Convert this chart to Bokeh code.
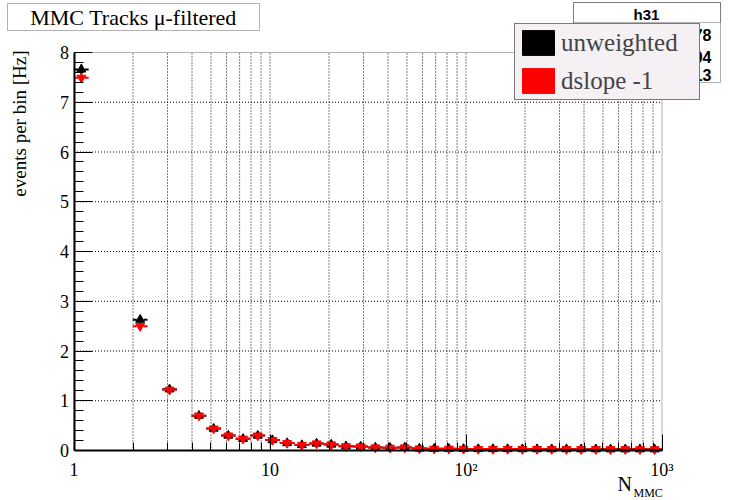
import numpy as np
from bokeh.plotting import figure
from bokeh.models import (FixedTicker, SingleIntervalTicker, Label, BoxAnnotation,
                          Legend, LegendItem, ColumnDataSource)
from bokeh.embed import file_html
from bokeh.resources import INLINE

# ---------------- data ----------------
title_text = "MMC Tracks μ-filtered"
stats_name = "h31"
stats_fragments = ["78", "04", "13"]
series_names = ["unweighted", "dslope -1"]
y_label = "events per bin [Hz]"
x_label_main = "N"
x_label_sub = "MMC"

n_bins = 40                      # log-spaced bins from 1 to 1000
bin_index = [0, 4, 6] + list(range(8, 40))   # non-empty bins

unweighted = [7.66, 2.63, 1.23, 0.70, 0.44, 0.30, 0.235, 0.30, 0.21, 0.15,
              0.11, 0.14, 0.12, 0.085, 0.08, 0.06, 0.055, 0.06, 0.04, 0.035,
              0.035, 0.032, 0.03, 0.03, 0.03, 0.028, 0.028, 0.027, 0.027, 0.026,
              0.026, 0.025, 0.025, 0.025, 0.024]
dslope = [7.49, 2.50, 1.22, 0.70, 0.44, 0.30, 0.235, 0.30, 0.21, 0.15,
          0.11, 0.14, 0.12, 0.085, 0.08, 0.06, 0.055, 0.06, 0.04, 0.035,
          0.035, 0.032, 0.03, 0.03, 0.03, 0.028, 0.028, 0.027, 0.027, 0.026,
          0.026, 0.025, 0.025, 0.025, 0.024]
err_unweighted = [0.10, 0.06, 0.04, 0.03, 0.025, 0.02, 0.018, 0.02, 0.016, 0.013,
                  0.011, 0.012, 0.011, 0.009, 0.009, 0.008, 0.007, 0.008, 0.006, 0.006,
                  0.006, 0.005, 0.005, 0.005, 0.005, 0.005, 0.005, 0.005, 0.005, 0.005,
                  0.005, 0.005, 0.005, 0.005, 0.005]
err_dslope = [0.10, 0.06, 0.04, 0.03, 0.025, 0.02, 0.018, 0.02, 0.016, 0.013,
              0.011, 0.012, 0.011, 0.009, 0.009, 0.008, 0.007, 0.008, 0.006, 0.006,
              0.006, 0.005, 0.005, 0.005, 0.005, 0.005, 0.005, 0.005, 0.005, 0.005,
              0.005, 0.005, 0.005, 0.005, 0.005]

x_limits = (1, 1000)
y_limits = (0, 8)
x_major_ticks = [1, 10, 100, 1000]
x_tick_labels = {1: "1", 10: "10", 100: "10²", 1000: "10³"}
x_minor_ticks = [m * 10 ** d for d in range(3) for m in range(2, 10)]
y_grid_values = [1, 2, 3, 4, 5, 6, 7]

# ---------------- derived ----------------
edges = np.logspace(0, 3, n_bins + 1)
idx = np.array(bin_index)
lo = edges[idx]
hi = edges[idx + 1]
xc = np.sqrt(lo * hi)

SERIF = "Liberation Serif"
SANS = "Liberation Sans"

W, H = 735, 500
# frame (ROOT pad) pixel geometry: x=1 at 73.5px, x=1000 at 661.5px; y=0 at 450px, y=8 at 52px
fx0, fx1, fy0, fy8 = 73.5, 661.5, 450.0, 52.0
dec = (fx1 - fx0) / 3.0
unit = (fy0 - fy8) / 8.0
xr = (10 ** (-fx0 / dec), 10 ** (3 + (W - fx1) / dec))
yr = (-(H - fy0) / unit, 8 + fy8 / unit)

p = figure(width=W, height=H, x_axis_type="log", x_range=xr, y_range=yr,
           output_backend="svg", toolbar_location=None, title=None,
           min_border=0, min_border_left=0, min_border_right=0,
           min_border_top=0, min_border_bottom=0)
p.outline_line_color = None
p.background_fill_color = "white"
p.border_fill_color = "white"
p.grid.visible = False

# grid lines (dotted) at tick positions
vx = x_minor_ticks + x_major_ticks[1:-1]
p.segment(x0=vx, y0=[y_limits[0]] * len(vx), x1=vx, y1=[y_limits[1]] * len(vx),
          line_color="black", line_width=1, line_dash="1 2")
p.segment(x0=[x_limits[0]] * len(y_grid_values), y0=y_grid_values,
          x1=[x_limits[1]] * len(y_grid_values), y1=y_grid_values,
          line_color="black", line_width=1, line_dash="1 2")

# frame box
p.add_layout(BoxAnnotation(left=x_limits[0], right=x_limits[1], bottom=y_limits[0],
                           top=y_limits[1], fill_alpha=0, line_color="black",
                           line_width=1, level="underlay"))

# axes
xt = FixedTicker(ticks=x_major_ticks, minor_ticks=x_minor_ticks)
xa = p.xaxis[0]
xa.fixed_location = y_limits[0]
xa.bounds = x_limits
xa.ticker = xt
xa.major_label_overrides = x_tick_labels
xa.major_tick_in = 16
xa.major_tick_out = 0
xa.minor_tick_in = 8
xa.minor_tick_out = 0
xa.axis_line_width = 2
xa.major_label_text_font = SERIF
xa.major_label_text_font_size = "18px"
xa.major_label_text_color = "black"
xa.major_label_standoff = 9

yt = SingleIntervalTicker(interval=1, num_minor_ticks=5)
ya = p.yaxis[0]
ya.fixed_location = x_limits[0]
ya.bounds = y_limits
ya.ticker = yt
ya.major_tick_in = 18
ya.major_tick_out = 0
ya.minor_tick_in = 9
ya.minor_tick_out = 0
ya.axis_line_width = 2
ya.major_label_text_font = SERIF
ya.major_label_text_font_size = "18px"
ya.major_label_text_color = "black"
ya.major_label_standoff = 5

# data renderers: dashed bin-width bars (drawn from each bin edge toward the centre),
# vertical error bars, and markers
def draw(vals, errs, color, marker):
    v = np.array(vals)
    e = np.array(errs)
    src = ColumnDataSource(dict(x=xc, lo=lo, hi=hi, y=v, ylo=v - e, yhi=v + e))
    p.segment(x0="lo", y0="y", x1="x", y1="y", source=src, line_color=color,
              line_width=2, line_dash="4 3")
    p.segment(x0="hi", y0="y", x1="x", y1="y", source=src, line_color=color,
              line_width=2, line_dash="4 3")
    p.segment(x0="x", y0="ylo", x1="x", y1="yhi", source=src, line_color=color, line_width=2)
    p.scatter(x="x", y="y", source=src, marker=marker, size=9,
              fill_color=color, line_color=color)

draw(unweighted, err_unweighted, "black", "triangle")
draw(dslope, err_dslope, "red", "inverted_triangle")

def sbox(l, r, t, b, fill=True):
    return BoxAnnotation(left=l, right=r, top=H - t, bottom=H - b,
                         left_units="screen", right_units="screen",
                         top_units="screen", bottom_units="screen",
                         fill_color="white", fill_alpha=1 if fill else 0,
                         line_color="black", line_width=1, level="overlay")

def slabel(x, y, text, **kw):
    return Label(x=x, y=H - y, x_units="screen", y_units="screen", text=text,
                 text_color="black", level="overlay", **kw)

# title box
p.add_layout(sbox(7, 259, 3, 30))
p.add_layout(slabel(133, 16.5, title_text, text_font=SERIF, text_font_size="22px",
                    text_align="center", text_baseline="middle"))

# stats box (partly hidden by the legend)
p.add_layout(sbox(573, 720, 2, 82))
p.add_layout(sbox(573, 720, 2, 22, fill=False))
p.add_layout(slabel(646, 14, stats_name, text_font=SANS, text_font_style="bold",
                    text_font_size="15px", text_align="center", text_baseline="middle"))
for frag, yy in zip(stats_fragments, [34, 56, 74]):
    p.add_layout(slabel(711, yy, frag, text_font=SANS, text_font_style="bold",
                        text_font_size="16px", text_align="right", text_baseline="middle"))

# legend (filled boxes, ROOT "f" style); NaN quads draw nothing on the plot itself
r1 = p.quad(left=[np.nan], right=[np.nan], top=[np.nan], bottom=[np.nan],
            fill_color="black", line_color="black")
r2 = p.quad(left=[np.nan], right=[np.nan], top=[np.nan], bottom=[np.nan],
            fill_color="red", line_color="red")
legend = Legend(items=[LegendItem(label=series_names[0], renderers=[r1], index=0),
                       LegendItem(label=series_names[1], renderers=[r2], index=0)],
                location=(514, H - 100), glyph_width=40, glyph_height=31, padding=3,
                spacing=7, label_standoff=3, label_width=135, label_height=31, margin=0,
                label_text_font=SERIF, label_text_font_size="25px",
                border_line_color="black", border_line_width=1,
                background_fill_color="#f4f0f4", background_fill_alpha=1)
p.add_layout(legend, "center")

# axis titles
p.add_layout(slabel(19, 50, y_label, angle=np.pi / 2, text_font=SERIF,
                    text_font_size="19px", text_align="right", text_baseline="middle"))
p.add_layout(slabel(617, 483, x_label_main, text_font=SERIF, text_font_size="20px",
                    text_align="left", text_baseline="alphabetic"))
p.add_layout(slabel(633, 492, x_label_sub, text_font=SERIF, text_font_size="12px",
                    text_align="left", text_baseline="alphabetic"))

open("out.html", "w").write(file_html(p, INLINE))
